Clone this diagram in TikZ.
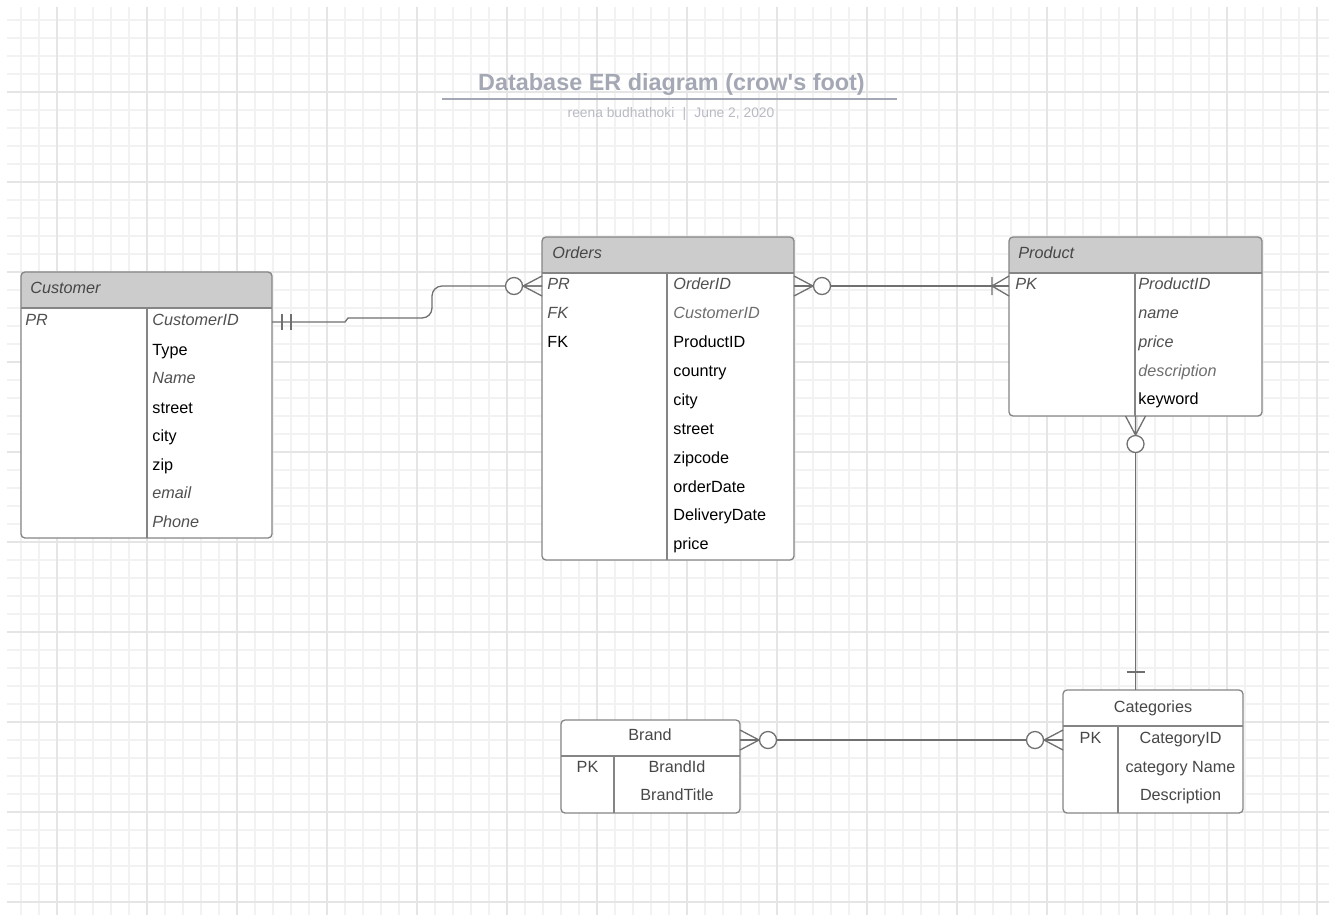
\documentclass[tikz,border=0pt]{standalone}
\usepackage{fontspec}
\setmainfont{Liberation Sans}
\usetikzlibrary{positioning}
\definecolor{gridminor}{HTML}{F2F2F2}
\definecolor{gridmajor}{HTML}{E5E5E5}
\definecolor{headgray}{HTML}{CCCCCC}
\definecolor{boxgray}{HTML}{858585}
\definecolor{relgray}{HTML}{707070}
\definecolor{italgray}{HTML}{505050}
\definecolor{softgray}{HTML}{6E6E6E}
\definecolor{cellgray}{HTML}{474747}
\definecolor{titlegray}{HTML}{A4A8B4}
\definecolor{subgray}{HTML}{B8BBC3}
\newcommand{\fieldfont}{\fontsize{8.1pt}{9.5pt}\selectfont}
\tikzset{
  gridthin/.style={draw=gridminor, line width=0.8pt},
  gridthick/.style={draw=gridmajor, line width=0.8pt},
  entity/.style={draw=boxgray, line width=0.65pt, fill=white, rounded corners=2pt,
    anchor=north west, inner sep=0pt, outer sep=0pt,
    path picture={
      \fill[#1, sharp corners] (path picture bounding box.north west)
        rectangle ([yshift=-18pt]path picture bounding box.north east);
      \draw[boxgray, line width=0.65pt, sharp corners] ([yshift=-18pt]path picture bounding box.north west)
        -- ([yshift=-18pt]path picture bounding box.north east);}},
  entity/.default=headgray,
  divider/.style={draw=boxgray, line width=0.65pt},
  field/.style={inner sep=0pt, font=\fieldfont, text height=5.8pt, text depth=2pt},
  attr/.style={field, anchor=west, text=black},
  attri/.style={field, anchor=west, text=italgray, font=\fieldfont\itshape},
  attrs/.style={attri, text=softgray},
  cell/.style={field, text=cellgray},
  relline/.style={draw=relgray, line width=0.65pt},
  manyzero/.pic={
    \draw[relline] (0,5pt) -- (9.5pt,0) -- (0,-5pt) (0,0) -- (9.5pt,0);
    \draw[relline, fill=white] (14pt,0) circle (4.25pt);},
  onemany/.pic={
    \draw[relline] (0,5pt) -- (8.5pt,0) -- (0,-5pt) (8.5pt,4.5pt) -- (8.5pt,-4.5pt);},
  justone/.pic={
    \draw[relline] (9pt,4.5pt) -- (9pt,-4.5pt);},
  onlyone/.pic={
    \draw[relline] (5pt,4pt) -- (5pt,-4pt) (9.5pt,4pt) -- (9.5pt,-4pt);}
}
\begin{document}
\begin{tikzpicture}[x=0.5pt, y=-0.5pt]
    \useasboundingbox (0,0) rectangle (1336,917);
    \fill[white] (0,0) rectangle (1336,917);

    % background grid
    \foreach \gx in {21,39,...,1317} \draw[gridthin] (\gx,7) -- (\gx,915);
    \foreach \gy in {20,38,...,902} \draw[gridthin] (7,\gy) -- (1329,\gy);
    \foreach \gx in {57,147,...,1317} \draw[gridthick] (\gx,7) -- (\gx,915);
    \foreach \gy in {92,182,...,902} \draw[gridthick] (7,\gy) -- (1329,\gy);

    % title
    \node[font=\bfseries\fontsize{11.7pt}{14pt}\selectfont, text=titlegray] (title) at (671.5,84) {Database ER diagram (crow\textquotesingle s foot)};
    \draw[titlegray, line width=1pt] (442,99) -- (897,99);
    \node[font=\fontsize{6.9pt}{8pt}\selectfont, text=subgray] (subtitle) at (671,114) {reena budhathoki\hspace{0.6em}|\hspace{0.6em}June 2, 2020};

    % entities
    \node[entity, minimum width=125.5pt, minimum height=133pt] (customer) at (21,272) {};
    \node[entity, minimum width=126pt, minimum height=161.5pt] (orders) at (542,237) {};
    \node[entity, minimum width=126.5pt, minimum height=89.5pt] (product) at (1009,237) {};
    \node[entity=white, minimum width=89.5pt, minimum height=46.5pt] (brand) at (561,720) {};
    \node[entity=white, minimum width=90pt, minimum height=61.5pt] (categories) at (1063,690) {};

    \draw[divider] (147,308) -- (147,538);
    \draw[divider] (667,273) -- (667,560);
    \draw[divider] (1135,272) -- (1135,416);
    \draw[divider] (614,755) -- (614,813);
    \draw[divider] (1118,726) -- (1118,813);

    % Customer
    \node[attri, text=cellgray] (custname) at (30,290) {Customer};
    \node[attri] (custpr) at (25,322) {PR};
    \node[attri] (cid) at (152,322) {CustomerID};
    \node[attr] (ctype) at (152,352) {Type};
    \node[attri] (cname) at (152,380) {Name};
    \node[attr] (cstreet) at (152,410) {street};
    \node[attr] (ccity) at (152,438) {city};
    \node[attr] (czip) at (152,467) {zip};
    \node[attri] (cemail) at (152,495) {email};
    \node[attri] (cphone) at (152,524) {Phone};

    % Orders
    \node[attri, text=cellgray] (ordname) at (552,255) {Orders};
    \node[attri] (ordpr) at (547,286) {PR};
    \node[attri] (ordfk) at (547,315) {FK};
    \node[attr] (ordfkb) at (547,344) {FK};
    \node[attri] (oid) at (673,286) {OrderID};
    \node[attrs] (ocid) at (673,315) {CustomerID};
    \node[attr] (opid) at (673,344) {ProductID};
    \node[attr] (ocountry) at (673,373) {country};
    \node[attr] (ocity) at (673,402) {city};
    \node[attr] (ostreet) at (673,431) {street};
    \node[attr] (ozip) at (673,460) {zipcode};
    \node[attr] (odate) at (673,489) {orderDate};
    \node[attr] (odeliv) at (673,517) {DeliveryDate};
    \node[attr] (oprice) at (673,546) {price};

    % Product
    \node[attri, text=cellgray] (prodname) at (1018,255) {Product};
    \node[attri] (prodpk) at (1015,286) {PK};
    \node[attri] (pid) at (1138,286) {ProductID};
    \node[attri] (pname) at (1138,315) {name};
    \node[attri] (pprice) at (1138,344) {price};
    \node[attrs] (pdesc) at (1138,373) {description};
    \node[attr] (pkey) at (1138,401) {keyword};

    % Brand
    \node[cell] (brandname) at (650,737) {Brand};
    \node[cell] (brandpk) at (587.5,769) {PK};
    \node[cell] (bid) at (677,769) {BrandId};
    \node[cell] (btitle) at (677,797) {BrandTitle};

    % Categories
    \node[cell] (catname) at (1153,709) {Categories};
    \node[cell] (catpk) at (1090.5,740) {PK};
    \node[cell] (catid) at (1180.5,740) {CategoryID};
    \node[cell] (catcname) at (1180.5,769) {category Name};
    \node[cell] (catdesc) at (1180.5,797) {Description};

    % relationships
    \draw[relline] (customer.east |- cid) -- ++(73,0) -- ++(3,-4) [rounded corners=5pt] -- ++(84,0) |- (orders.west |- oid);
    \draw[relline] (orders.east |- oid) -- (product.west |- pid);
    \draw[relline] (product.south) -- (categories.north -| product.south);
    \draw[relline] (brand.east |- catpk) -- (categories.west |- catpk);

    \pic at (customer.east |- cid) {onlyone};
    \pic[rotate=180] at (orders.west |- oid) {manyzero};
    \pic at (orders.east |- oid) {manyzero};
    \pic[rotate=180] at (product.west |- pid) {onemany};
    \pic[rotate=-90] at (product.south) {manyzero};
    \pic[rotate=90] at (categories.north -| product.south) {justone};
    \pic at (brand.east |- catpk) {manyzero};
    \pic[rotate=180] at (categories.west |- catpk) {manyzero};

  \end{tikzpicture}
\end{document}
